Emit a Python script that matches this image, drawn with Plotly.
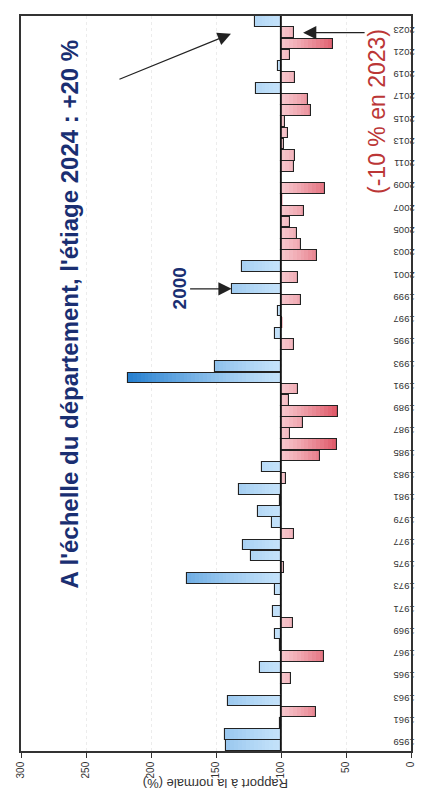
import plotly.graph_objects as go

# ---- data ----
years = list(range(1959, 2025))
ratio = [142, 143, 101, 73, 141, 100, 92, 116, 67, 101,
         105, 91, 106, 100, 105, 172, 98, 123, 129, 90,
         107, 118, 101, 132, 96, 115, 70, 57, 93, 83,
         56, 94, 87, 218, 151, 100, 90, 105, 99, 102,
         85, 138, 87, 130, 72, 85, 88, 93, 82, 99,
         66, 100, 90, 89, 98, 95, 97, 77, 79, 119,
         89, 102, 93, 60, 90, 120]
year_ticks = list(range(1959, 2024, 2))
value_ticks = [0, 50, 100, 150, 200, 250, 300]
normal = 100

title_txt = "A l'échelle du département, l'étiage 2024 : +20 %"
note_txt = "(-10 % en 2023)"
mark_txt = "2000"
axis_title = "Rapport à la normale (%)"

FONT = "Arial, Liberation Sans, sans-serif"

def mix(c0, c1, t):
    return "rgb(%d,%d,%d)" % tuple(round(a + (b - a) * t) for a, b in zip(c0, c1))

def blue(d):
    t = min(d / 118.0, 1.0) ** 1.3
    return mix((196, 226, 250), (38, 128, 208), t)

def red(d):
    t = min(d / 45.0, 1.0) ** 1.2
    return mix((247, 200, 206), (222, 84, 100), t)

dev = [v - normal for v in ratio]

fig = go.Figure()
caps = list(range(120, 0, -3))
for cap in caps:
    xs = [(1 if d > 0 else -1) * min(abs(d), cap) for d in dev]
    cols = [blue(cap) if d > 0 else red(cap) for d in dev]
    fig.add_trace(go.Bar(
        y=years, x=xs, base=normal, orientation="h",
        marker=dict(color=cols, line=dict(width=0)),
        width=0.96, hoverinfo="skip", showlegend=False))

# outlines
fig.add_trace(go.Bar(
    y=years, x=dev, base=normal, orientation="h",
    marker=dict(color="rgba(0,0,0,0)", line=dict(color="#222222", width=1.1)),
    width=0.96, showlegend=False))

fig.add_shape(type="line", xref="x", yref="paper", x0=normal, x1=normal,
              y0=0, y1=1, line=dict(color="#111111", width=1.6))

fig.update_layout(
    width=428, height=794,
    margin=dict(l=13, r=25, t=8, b=51, autoexpand=False),
    paper_bgcolor="white", plot_bgcolor="white",
    barmode="overlay", bargap=0,
    font=dict(family=FONT, color="#222222"),
    xaxis=dict(range=[300, 0], tickvals=value_ticks, tickangle=-90,
               ticks="outside", ticklen=5, tickcolor="#333333",
               tickfont=dict(size=10, color="#333333"),
               showline=True, mirror=True, linecolor="#333333", linewidth=1.5,
               showgrid=True, gridcolor="#ececec", griddash="dot",
               zeroline=False),
    yaxis=dict(range=[1958.5, 2024.5], tickvals=year_ticks, side="right",
               tickangle=180, ticks="", tickfont=dict(size=9.5, color="#333333"),
               showline=True, mirror=True, linecolor="#333333", linewidth=1.5,
               showgrid=False, zeroline=False),
)

ann = []
ann.append(dict(x=263, y=1997.7, xref="x", yref="y", text=title_txt,
                textangle=-90, showarrow=False,
                font=dict(size=24, color="#1a2f72", family=FONT, weight="bold")))
ann.append(dict(x=26, y=2015.9, xref="x", yref="y", text=note_txt,
                textangle=-90, showarrow=False,
                font=dict(size=23, color="#bb3636", family=FONT)))
ann.append(dict(x=178, y=2000, xref="x", yref="y", text=mark_txt,
                textangle=-90, showarrow=False,
                font=dict(size=19, color="#1a2f72", family=FONT, weight="bold")))
ann.append(dict(x=0.5, y=-0.058, xref="paper", yref="paper", text=axis_title,
                textangle=180, showarrow=False,
                font=dict(size=13, color="#333333", family=FONT)))
# arrows
ann.append(dict(x=138, y=2000, xref="x", yref="y", text="", showarrow=True,
                ax=-43, ay=0, arrowhead=2, arrowsize=2.2, arrowwidth=1.2,
                arrowcolor="#222222", standoff=0))
ann.append(dict(x=83, y=2023, xref="x", yref="y", text="", showarrow=True,
                ax=63, ay=0, arrowhead=2, arrowsize=2.2, arrowwidth=1.2,
                arrowcolor="#222222", standoff=0))
ann.append(dict(x=138.5, y=2022.9, xref="x", yref="y", text="", showarrow=True,
                ax=-113, ay=46, arrowhead=2, arrowsize=2.2, arrowwidth=1.2,
                arrowcolor="#222222", standoff=0))
fig.update_layout(annotations=ann)

fig.write_html("out.html")
